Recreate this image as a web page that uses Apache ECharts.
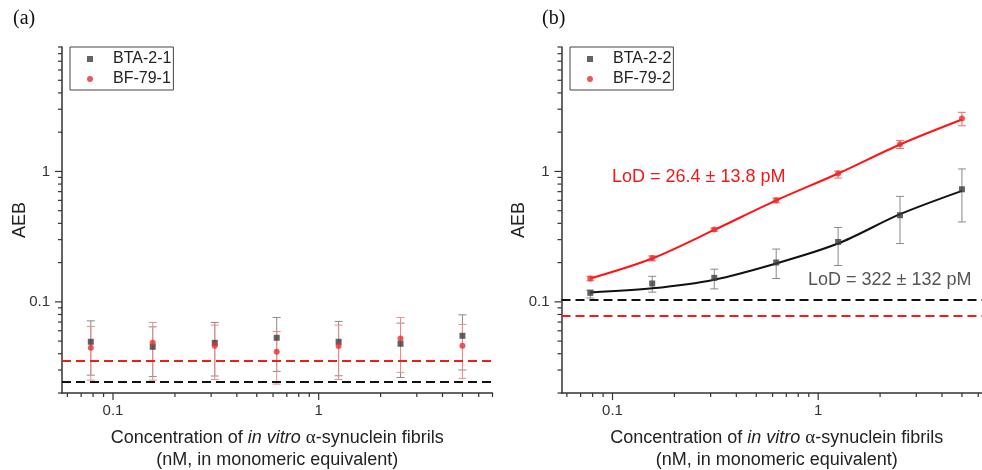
<!DOCTYPE html>
<html><head><meta charset="utf-8">
<script src="https://cdn.jsdelivr.net/npm/echarts@6/dist/echarts.min.js"></script>
<style>html,body{margin:0;padding:0;background:#fff}#c{width:982px;height:470px}</style>
</head><body><div id="c"></div>
<script>
// ---- data ----
const concentrations = [0.078, 0.156, 0.3125, 0.625, 1.25, 2.5, 5];

// panel (a)
const bta21 = [0.0494, 0.0452, 0.0485, 0.0530, 0.0494, 0.0477, 0.0549];
const bta21Low = [0.0274, 0.0267, 0.0270, 0.0293, 0.0271, 0.0263, 0.0300];
const bta21High = [0.0715, 0.0643, 0.0695, 0.0759, 0.0708, 0.0687, 0.0795];
const bf791 = [0.0444, 0.0485, 0.0460, 0.0414, 0.0458, 0.0524, 0.0460];
const bf791Low = [0.0251, 0.0251, 0.0254, 0.0234, 0.0254, 0.0288, 0.0259];
const bf791High = [0.0648, 0.0695, 0.0663, 0.0593, 0.0663, 0.0759, 0.0671];
const blankA = { bta: 0.0244, bf: 0.0351 };

// panel (b)
const bta22 = [0.1172, 0.1383, 0.1527, 0.2004, 0.288, 0.4617, 0.730];
const bta22Low = [0.107, 0.1187, 0.1257, 0.151, 0.190, 0.280, 0.41];
const bta22High = [0.123, 0.157, 0.178, 0.254, 0.372, 0.644, 1.045];
const bta22Fit = [0.118, 0.127, 0.148, 0.197, 0.280, 0.470, 0.71];
const bf792 = [0.151, 0.217, 0.359, 0.602, 0.964, 1.616, 2.544];
const bf792Low = [0.145, 0.206, 0.348, 0.574, 0.89, 1.50, 2.24];
const bf792High = [0.157, 0.225, 0.367, 0.626, 1.008, 1.73, 2.84];
const bf792Fit = [0.151, 0.215, 0.356, 0.600, 0.964, 1.61, 2.50];
const blankB = { bta: 0.103, bf: 0.0781 };

// axes
const xMin = 0.0565, xMax = 7, yMin = 0.02, yMax = 9;
const majorTicks = [0.1, 1];
const majorTickLabels = ['0.1', '1'];
const xMinorTicks = [0.06,0.07,0.08,0.09,0.2,0.3,0.4,0.5,0.6,0.7,0.8,0.9,2,3,4,5,6,7];
const yMinorTicks = [0.02,0.03,0.04,0.05,0.06,0.07,0.08,0.09,0.2,0.3,0.4,0.5,0.6,0.7,0.8,0.9,2,3,4,5,6,7,8,9];

const lodB_bf = 'LoD = 26.4 ± 13.8 pM';
const lodB_bta = 'LoD = 322 ± 132 pM';

// ---- helpers ----
const FONT = 'Liberation Sans, Arial, sans-serif';
const AXIS_COLOR = '#333';
function labelFor(v) {
  for (let i = 0; i < majorTicks.length; i++) {
    if (Math.abs(Math.log10(v) - Math.log10(majorTicks[i])) < 1e-6) return majorTickLabels[i];
  }
  return '';
}
function zip3(a, b, c) { return a.map((v, i) => [v, b[i], c[i]]); }
function pairs(ys) { return concentrations.map((x, i) => [x, ys[i]]); }

function errorBarSeries(idx, lows, highs, color) {
  return {
    type: 'custom', xAxisIndex: idx, yAxisIndex: idx, z: 2, silent: true,
    data: zip3(concentrations, lows, highs),
    renderItem: function (params, api) {
      const x = api.value(0);
      const a = api.coord([x, api.value(1)]);
      const b = api.coord([x, api.value(2)]);
      const w = 4;
      const st = { stroke: color, lineWidth: 1 };
      return { type: 'group', children: [
        { type: 'line', shape: { x1: a[0], y1: a[1], x2: b[0], y2: b[1] }, style: st },
        { type: 'line', shape: { x1: a[0] - w, y1: a[1], x2: a[0] + w, y2: a[1] }, style: st },
        { type: 'line', shape: { x1: b[0] - w, y1: b[1], x2: b[0] + w, y2: b[1] }, style: st }
      ]};
    }
  };
}
function tickSeries(idx) {
  const yData = majorTicks.map(v => [xMin, v, 7]).concat(yMinorTicks.map(v => [xMin, v, 4]));
  const xData = majorTicks.map(v => [v, yMin, 7]).concat(xMinorTicks.map(v => [v, yMin, 4]));
  const st = { stroke: AXIS_COLOR, lineWidth: 1.2 };
  return [
    { type: 'custom', xAxisIndex: idx, yAxisIndex: idx, silent: true, z: 5, data: yData,
      renderItem: function (p, api) {
        const c = api.coord([api.value(0), api.value(1)]); const l = api.value(2);
        return { type: 'line', shape: { x1: c[0] - l, y1: c[1], x2: c[0], y2: c[1] }, style: st };
      } },
    { type: 'custom', xAxisIndex: idx, yAxisIndex: idx, silent: true, z: 5, data: xData,
      renderItem: function (p, api) {
        const c = api.coord([api.value(0), api.value(1)]); const l = api.value(2);
        return { type: 'line', shape: { x1: c[0], y1: c[1], x2: c[0], y2: c[1] + l }, style: st };
      } }
  ];
}
function dashLine(val, color) {
  return { silent: true, symbol: 'none', precision: 6, label: { show: false },
    lineStyle: { type: [9, 5], width: 1.8, color: color }, data: [{ yAxis: val }] };
}
function xAxisDef(idx) {
  return {
    type: 'log', gridIndex: idx, min: xMin, max: xMax, logBase: 10,
    axisLine: { lineStyle: { color: AXIS_COLOR, width: 1.5 } },
    axisTick: { show: false }, minorTick: { show: false }, splitLine: { show: false },
    axisLabel: { formatter: labelFor, color: '#333', fontSize: 15, fontFamily: FONT, margin: 10 },
    name: '{n|Concentration of }{i|in vitro}{n| }{g|α}{n|-synuclein fibrils}\n{n|(nM, in monomeric equivalent)}',
    nameLocation: 'middle', nameGap: 34, nameMoveOverlap: false,
    nameTextStyle: { fontSize: 18, lineHeight: 22, color: '#222', fontFamily: FONT,
      rich: {
        n: { fontSize: 18, lineHeight: 22, color: '#222', fontFamily: FONT },
        i: { fontSize: 18, lineHeight: 22, color: '#222', fontFamily: FONT, fontStyle: 'italic' },
        g: { fontSize: 19, lineHeight: 22, color: '#222', fontFamily: 'Liberation Serif, DejaVu Serif, serif' }
      } }
  };
}
function yAxisDef(idx) {
  return {
    type: 'log', gridIndex: idx, min: yMin, max: yMax, logBase: 10,
    axisLine: { lineStyle: { color: AXIS_COLOR, width: 1.5 } },
    axisTick: { show: false }, minorTick: { show: false }, splitLine: { show: false },
    axisLabel: { formatter: labelFor, color: '#333', fontSize: 15, fontFamily: FONT, margin: 12 },
    name: 'AEB', nameLocation: 'middle', nameGap: 33, nameMoveOverlap: false,
    nameTextStyle: { fontSize: 18, color: '#222', fontFamily: FONT }
  };
}
function legendDef(left, names) {
  return {
    orient: 'vertical', left: left, top: 47, data: names,
    itemWidth: 6, itemHeight: 6, itemGap: 4,
    padding: [4, 2, 3, 17], borderColor: '#444', borderWidth: 1, borderRadius: 0,
    selectedMode: false,
    textStyle: { fontSize: 16, lineHeight: 16, color: '#222', fontFamily: FONT, padding: [0, 0, 0, 15] }
  };
}

const chart = echarts.init(document.getElementById('c'), null, { renderer: 'canvas' });
const option = {
  backgroundColor: '#fff',
  animation: false,
  grid: [
    { left: 62, top: 47, width: 430.5, height: 346, outerBoundsMode: 'none', containLabel: false },
    { left: 561.5, top: 47, width: 430.5, height: 346, outerBoundsMode: 'none', containLabel: false }
  ],
  xAxis: [xAxisDef(0), xAxisDef(1)],
  yAxis: [yAxisDef(0), yAxisDef(1)],
  legend: [legendDef(70, ['BTA-2-1', 'BF-79-1']), legendDef(570, ['BTA-2-2', 'BF-79-2'])],
  graphic: [
    { type: 'text', left: 13, top: 9, style: { text: '(a)', fill: '#111', font: '20px "Liberation Serif", serif' } },
    { type: 'text', left: 542, top: 9, style: { text: '(b)', fill: '#111', font: '20px "Liberation Serif", serif' } },
    { type: 'text', left: 612, top: 168, style: { text: lodB_bf, fill: '#f01818', font: '18px "Liberation Sans", Arial, sans-serif' } },
    { type: 'text', left: 808, top: 271, style: { text: lodB_bta, fill: '#555', font: '18px "Liberation Sans", Arial, sans-serif' } }
  ],
  series: [
    // panel a
    errorBarSeries(0, bta21Low, bta21High, '#8a8a8a'),
    errorBarSeries(0, bf791Low, bf791High, '#f08a8a'),
    { name: 'BTA-2-1', type: 'scatter', xAxisIndex: 0, yAxisIndex: 0, z: 3, symbol: 'rect', symbolSize: 6,
      itemStyle: { color: '#3c3c3c' }, data: pairs(bta21), markLine: dashLine(blankA.bta, '#111') },
    { name: 'BF-79-1', type: 'scatter', xAxisIndex: 0, yAxisIndex: 0, z: 3, symbol: 'circle', symbolSize: 6,
      itemStyle: { color: '#e8302f' }, data: pairs(bf791), markLine: dashLine(blankA.bf, '#f01c1c') },
    // panel b
    errorBarSeries(1, bta22Low, bta22High, '#8a8a8a'),
    errorBarSeries(1, bf792Low, bf792High, '#f06a6a'),
    { name: 'fitB_bta', type: 'line', xAxisIndex: 1, yAxisIndex: 1, z: 3, smooth: 0.3, showSymbol: false, symbol: 'none',
      lineStyle: { color: '#111', width: 2 }, data: pairs(bta22Fit), silent: true },
    { name: 'fitB_bf', type: 'line', xAxisIndex: 1, yAxisIndex: 1, z: 3, smooth: 0.3, showSymbol: false, symbol: 'none',
      lineStyle: { color: '#ff1414', width: 2 }, data: pairs(bf792Fit), silent: true },
    { name: 'BTA-2-2', type: 'scatter', xAxisIndex: 1, yAxisIndex: 1, z: 4, symbol: 'rect', symbolSize: 6,
      itemStyle: { color: '#3c3c3c' }, data: pairs(bta22), markLine: dashLine(blankB.bta, '#111') },
    { name: 'BF-79-2', type: 'scatter', xAxisIndex: 1, yAxisIndex: 1, z: 4, symbol: 'circle', symbolSize: 6,
      itemStyle: { color: '#e8302f' }, data: pairs(bf792), markLine: dashLine(blankB.bf, '#f01c1c') },
    ...tickSeries(0), ...tickSeries(1)
  ]
};
chart.setOption(option);
</script>
</body></html>
